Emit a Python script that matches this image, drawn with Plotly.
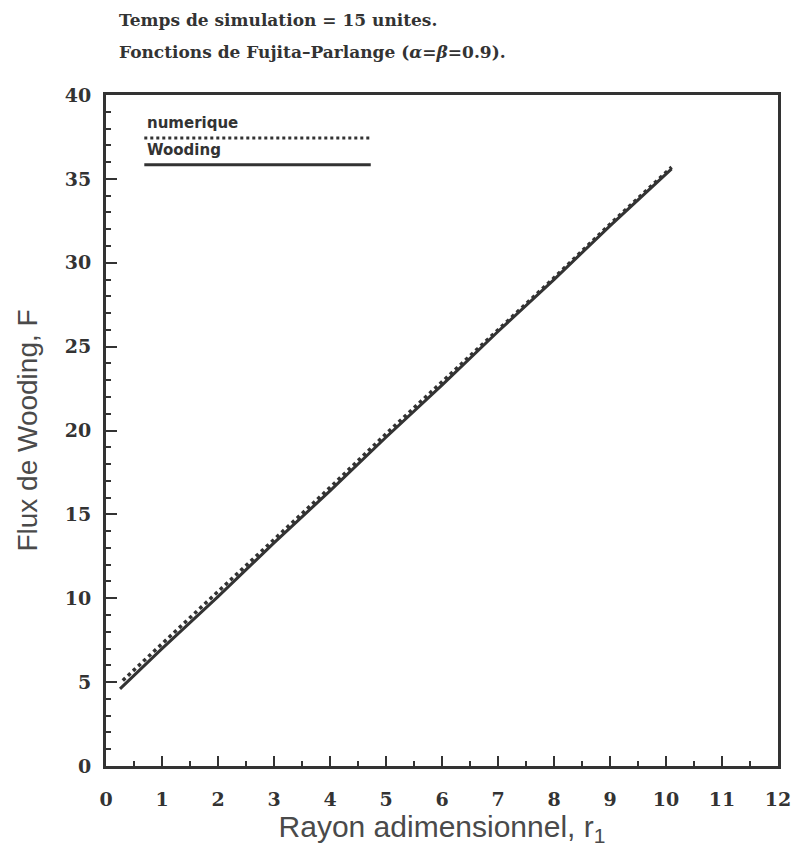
import plotly.graph_objects as go

# Data
r_num = [0.3, 1, 2, 3, 4, 5, 6, 7, 8, 9, 10.1]
F_num = [5.1, 7.3, 10.4, 13.5, 16.6, 19.8, 22.9, 26.0, 29.1, 32.3, 35.7]

r_wood = [0.25, 1, 2, 3, 4, 5, 6, 7, 8, 9, 10.1]
F_wood = [4.6, 7.0, 10.1, 13.3, 16.4, 19.6, 22.7, 25.9, 29.0, 32.2, 35.6]

x_ticks = list(range(0, 13))
y_ticks = [0, 5, 10, 15, 20, 25, 30, 35, 40]

legend_labels = ["numerique", "Wooding"]

INK = "#333333"

fig = go.Figure()
fig.add_trace(go.Scatter(x=r_num, y=F_num, mode="lines", name=legend_labels[0],
                         line=dict(color=INK, width=3.5, dash="dot")))
fig.add_trace(go.Scatter(x=r_wood, y=F_wood, mode="lines", name=legend_labels[1],
                         line=dict(color=INK, width=3)))

tickfont = dict(family="DejaVu Serif", size=19, color=INK, weight="bold")

fig.update_xaxes(range=[0, 12], tickvals=x_ticks, ticktext=[str(v) for v in x_ticks],
                 ticks="inside", ticklen=10, tickwidth=2, tickcolor=INK,
                 minor=dict(dtick=0.5, ticks="inside", ticklen=5, tickwidth=2, tickcolor=INK),
                 showline=True, linewidth=3, linecolor=INK, mirror=True,
                 showgrid=False, zeroline=False, tickfont=tickfont,
                 ticklabelstandoff=14,
                 title=dict(text="Rayon adimensionnel, r<sub>1</sub>",
                            font=dict(family="Liberation Sans", size=30, color="#4a4a4a"), standoff=6))
fig.update_yaxes(range=[0, 40], tickvals=y_ticks, ticktext=[str(v) for v in y_ticks],
                 ticks="inside", ticklen=11, tickwidth=2, tickcolor=INK,
                 minor=dict(dtick=1, ticks="inside", ticklen=5, tickwidth=2, tickcolor=INK),
                 showline=True, linewidth=3, linecolor=INK, mirror=True,
                 showgrid=False, zeroline=False, tickfont=tickfont,
                 ticklabelstandoff=8,
                 title=dict(text="Flux de Wooding, F",
                            font=dict(family="Liberation Sans", size=28, color="#4a4a4a"), standoff=19))

# Manual legend in paper coordinates
fig.add_shape(type="line", xref="paper", yref="paper", x0=0.057, x1=0.394, y0=0.936, y1=0.936,
              line=dict(color=INK, width=3, dash="dot"))
fig.add_shape(type="line", xref="paper", yref="paper", x0=0.057, x1=0.394, y0=0.896, y1=0.896,
              line=dict(color=INK, width=3))
legfont = dict(family="DejaVu Sans", size=15, color=INK, weight="bold")
fig.add_annotation(xref="paper", yref="paper", x=0.058, y=0.958, text=legend_labels[0],
                   showarrow=False, xanchor="left", yanchor="middle", font=legfont)
fig.add_annotation(xref="paper", yref="paper", x=0.058, y=0.918, text=legend_labels[1],
                   showarrow=False, xanchor="left", yanchor="middle", font=legfont)

# Title lines
titlefont = dict(family="DejaVu Serif", size=17, color=INK, weight="bold")
fig.add_annotation(xref="paper", yref="paper", x=0.016, y=1.112,
                   text="Temps de simulation = 15 unites.",
                   showarrow=False, xanchor="left", yanchor="middle", font=titlefont)
fig.add_annotation(xref="paper", yref="paper", x=0.016, y=1.064,
                   text="Fonctions de Fujita\u2013Parlange (<i>\u03b1</i>=<i>\u03b2</i>=0.9).",
                   showarrow=False, xanchor="left", yanchor="middle", font=titlefont)

fig.update_layout(width=803, height=852, margin=dict(l=106, r=15, t=95, b=86),
                  plot_bgcolor="white", paper_bgcolor="white", showlegend=False)

fig.write_html("out.html")
